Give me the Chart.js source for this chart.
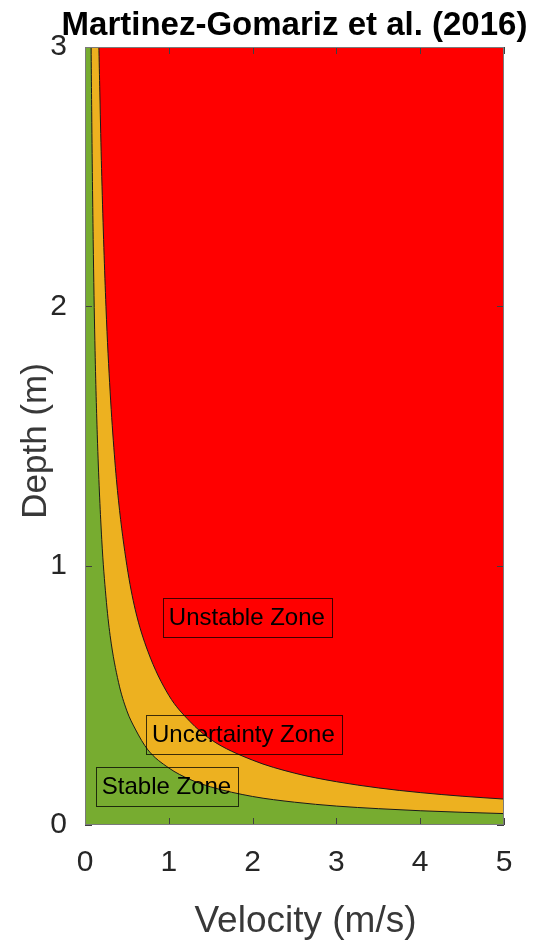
<!DOCTYPE html>
<html>
<head>
<meta charset="utf-8">
<script src="https://cdn.jsdelivr.net/npm/chart.js@4.4.0/dist/chart.umd.min.js"></script>
<style>
  html, body { margin: 0; padding: 0; background: #fff; }
  #wrap { width: 536px; height: 947px; }
</style>
</head>
<body>
<div id="wrap"><canvas id="zoneChart" width="536" height="947"></canvas></div>
<script>
const FONT = '"Liberation Sans", Arial, Helvetica, sans-serif';

const chartTitle = 'Martinez-Gomariz et al. (2016)';
const xTitle = 'Velocity (m/s)';
const yTitle = 'Depth (m)';
const velocityTicks = [0, 1, 2, 3, 4, 5];
const depthTicks = [0, 1, 2, 3];

// green / yellow edge (stable limit), first points sit above the top of the axes
const stableVelocity = [0, 0.044, 0.069, 0.08, 0.1, 0.12, 0.15, 0.2, 0.25, 0.3, 0.4, 0.5, 0.6, 0.75, 1, 1.25, 1.5, 2, 2.5, 3, 3.5, 4, 4.5, 5];
const stableDepth = [5, 5, 3.2, 2.75, 2.2, 1.83, 1.47, 1.1, 0.88, 0.73, 0.55, 0.44, 0.37, 0.29, 0.22, 0.176, 0.147, 0.11, 0.088, 0.073, 0.063, 0.055, 0.049, 0.044];

// yellow / red edge (unstable limit)
const unstableVelocity = [0, 0.1, 0.156, 0.18, 0.2, 0.25, 0.3, 0.35, 0.4, 0.5, 0.6, 0.75, 1, 1.25, 1.5, 2, 2.5, 3, 3.5, 4, 4.5, 5];
const unstableDepth = [5, 5, 3.2, 2.78, 2.5, 2.0, 1.67, 1.43, 1.25, 1.0, 0.83, 0.67, 0.5, 0.4, 0.33, 0.25, 0.2, 0.167, 0.143, 0.125, 0.111, 0.1];

const zoneLabels = ['Unstable Zone', 'Uncertainty Zone', 'Stable Zone'];
const zoneLabelVelocity = [1.0, 0.8, 0.2];
const zoneLabelDepth = [0.8, 0.35, 0.15];

const toPoints = (xs, ys) => xs.map((x, i) => ({ x: x, y: ys[i] }));

// red background for the whole axes
const redZone = {
    id: 'redZone',
    beforeDatasetsDraw(chart) {
        const a = chart.chartArea;
        const ctx = chart.ctx;
        ctx.save();
        ctx.fillStyle = '#FF0000';
        ctx.fillRect(a.left, a.top, a.right - a.left, a.bottom - a.top);
        ctx.restore();
    }
};

// text boxes, axes box, inward ticks, axis titles and the title
const decorations = {
    id: 'decorations',
    afterDraw(chart) {
        const ctx = chart.ctx;
        const a = chart.chartArea;
        const xs = chart.scales.x, ys = chart.scales.y;
        ctx.save();

        ctx.font = '24px ' + FONT;
        ctx.textBaseline = 'middle';
        ctx.textAlign = 'left';
        zoneLabels.forEach((txt, i) => {
            const px = xs.getPixelForValue(zoneLabelVelocity[i]);
            const py = ys.getPixelForValue(zoneLabelDepth[i]);
            const w = ctx.measureText(txt).width;
            ctx.strokeStyle = 'rgba(0,0,0,0.75)';
            ctx.lineWidth = 1;
            ctx.strokeRect(Math.round(px - 6) + 0.5, Math.round(py - 19.5) + 0.5, Math.round(w + 13), 39);
            ctx.fillStyle = '#000';
            ctx.fillText(txt, px, py + 1);
        });

        ctx.strokeStyle = '#404040';
        ctx.lineWidth = 1;
        ctx.beginPath();
        velocityTicks.forEach(v => {
            const px = Math.round(xs.getPixelForValue(v)) + 0.5;
            ctx.moveTo(px, a.bottom); ctx.lineTo(px, a.bottom - 7);
            ctx.moveTo(px, a.top); ctx.lineTo(px, a.top + 7);
        });
        depthTicks.forEach(d => {
            const py = Math.round(ys.getPixelForValue(d)) + 0.5;
            ctx.moveTo(a.left, py); ctx.lineTo(a.left + 7, py);
            ctx.moveTo(a.right, py); ctx.lineTo(a.right - 7, py);
        });
        ctx.stroke();

        ctx.strokeStyle = '#7a7a7a';
        ctx.strokeRect(Math.round(a.left) + 0.5, Math.round(a.top) + 0.5,
            Math.round(a.right - a.left) - 1, Math.round(a.bottom - a.top) - 1);

        // axis titles
        ctx.fillStyle = '#383838';
        ctx.textBaseline = 'alphabetic';
        ctx.textAlign = 'center';
        ctx.font = '37px ' + FONT;
        ctx.fillText(xTitle, (a.left + a.right) / 2 + 11, 932);
        ctx.save();
        ctx.translate(46, (a.top + a.bottom) / 2 + 5);
        ctx.rotate(-Math.PI / 2);
        ctx.font = '35px ' + FONT;
        ctx.fillText(yTitle, 0, 0);
        ctx.restore();

        ctx.fillStyle = '#000';
        ctx.font = 'bold 33px ' + FONT;
        ctx.fillText(chartTitle, (a.left + a.right) / 2, 35);
        ctx.restore();
    }
};

const ctx = document.getElementById('zoneChart').getContext('2d');
const zoneChart = new Chart(ctx, {
    type: 'line',
    data: {
        datasets: [{
            label: 'Stable limit',
            data: toPoints(stableVelocity, stableDepth),
            borderColor: '#1a1a1a',
            borderWidth: 1,
            backgroundColor: '#77AC30',
            fill: 'origin',
            cubicInterpolationMode: 'monotone',
            pointRadius: 0
        }, {
            label: 'Unstable limit',
            data: toPoints(unstableVelocity, unstableDepth),
            borderColor: '#1a1a1a',
            borderWidth: 1,
            backgroundColor: '#EDB120',
            fill: 'origin',
            cubicInterpolationMode: 'monotone',
            pointRadius: 0
        }]
    },
    options: {
        responsive: false,
        animation: false,
        layout: { padding: { top: 47, right: 32 } },
        plugins: {
            legend: { display: false },
            tooltip: { enabled: false },
            title: { display: false }
        },
        scales: {
            x: {
                type: 'linear',
                min: 0,
                max: 5,
                afterBuildTicks: s => { s.ticks = velocityTicks.map(v => ({ value: v })); },
                afterFit: s => { s.height = 122; },
                grid: { display: false },
                border: { display: false },
                ticks: { font: { size: 30, family: FONT }, color: '#262626', padding: 12 }
            },
            y: {
                type: 'linear',
                min: 0,
                max: 3,
                afterBuildTicks: s => { s.ticks = depthTicks.map(v => ({ value: v })); },
                afterFit: s => { s.width = 85; },
                grid: { display: false },
                border: { display: false },
                ticks: { font: { size: 30, family: FONT }, color: '#262626', padding: 10 }
            }
        }
    },
    plugins: [redZone, decorations]
});
</script>
</body>
</html>
